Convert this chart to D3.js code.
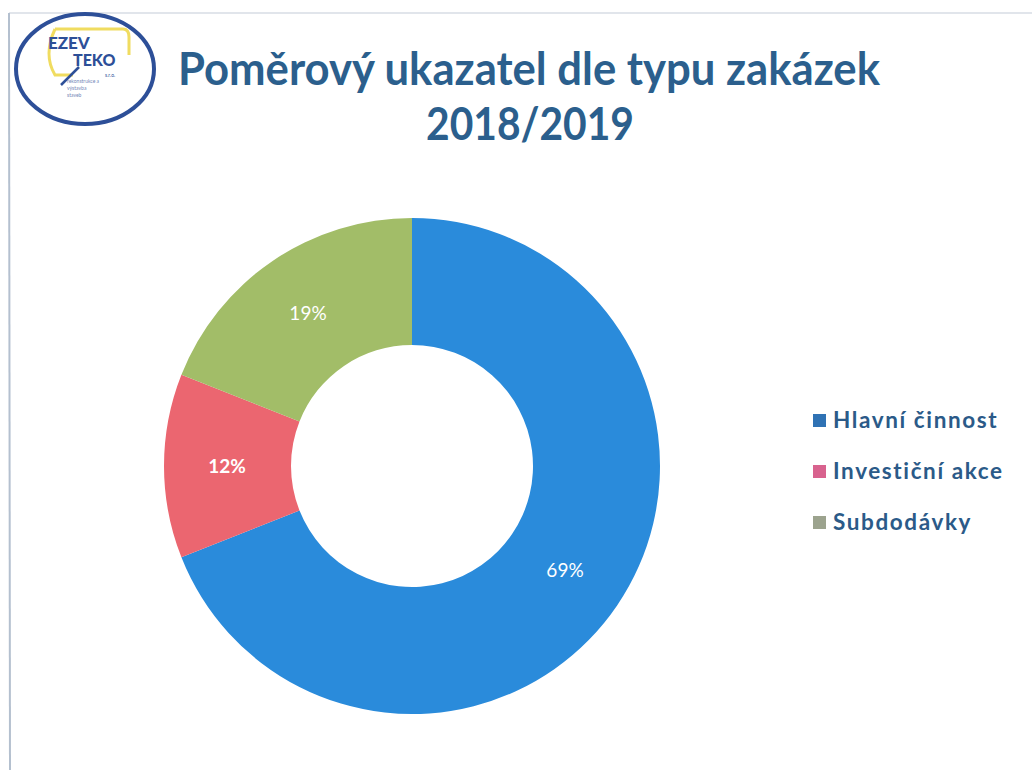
<!DOCTYPE html>
<html>
<head>
<meta charset="utf-8">
<title>Poměrový ukazatel dle typu zakázek</title>
<script src="https://d3js.org/d3.v7.min.js"></script>
<style>
  body { margin: 0; background: #fff; }
  svg { display: block; }
</style>
</head>
<body>
<div id="chart"></div>
<script>
// data
const categories = ["Hlavní činnost", "Investiční akce", "Subdodávky"];
const shares = [69, 12, 19];
const sliceColors = ["#2a8bdb", "#eb6670", "#a2bd68"];
const legendColors = ["#2f72b4", "#d8628e", "#9ca38e"];
const titleLines = ["Poměrový ukazatel dle typu zakázek", "2018/2019"];

const W = 1032, H = 770;
const svg = d3.select("#chart").append("svg")
    .attr("width", W).attr("height", H);

// scan border
svg.append("line").attr("x1", 9).attr("y1", 13).attr("x2", 1032).attr("y2", 13)
    .attr("stroke", "#c3ccd7").attr("stroke-width", 1.2);
svg.append("line").attr("x1", 9).attr("y1", 13).attr("x2", 10).attr("y2", 770)
    .attr("stroke", "#b4c0cf").attr("stroke-width", 2);

// logo
const logo = svg.append("g").attr("transform", "translate(85,69)");
logo.append("ellipse").attr("rx", 69).attr("ry", 55)
    .attr("fill", "#fff").attr("stroke", "#2d4f98").attr("stroke-width", 4);
logo.append("path").attr("d", "M-30,-40 L38,-40 Q44,-40 44,-32 L44,-14")
    .attr("fill", "none").attr("stroke", "#f0dc60").attr("stroke-width", 3);
logo.append("path").attr("d", "M-30,-40 Q-42,-14 -30,6 L-12,6")
    .attr("fill", "none").attr("stroke", "#f0dc60").attr("stroke-width", 3);
logo.append("line").attr("x1", -24).attr("y1", 16).attr("x2", -6).attr("y2", -2)
    .attr("stroke", "#2d4f98").attr("stroke-width", 2.5);
logo.append("text").attr("x", -37).attr("y", -20).text("EZEV")
    .attr("font-family", "Lato, sans-serif").attr("font-weight", "900")
    .attr("font-size", 17).attr("fill", "#2d4f98");
logo.append("text").attr("x", -12).attr("y", -3).text("TEKO")
    .attr("font-family", "Lato, sans-serif").attr("font-weight", "900")
    .attr("font-size", 16).attr("fill", "#2d4f98");
logo.append("text").attr("x", 20).attr("y", 8).text("s.r.o.")
    .attr("font-family", "Lato, sans-serif").attr("font-size", 5).attr("fill", "#2d4f98");
[14, 21, 28].forEach((y, i) => {
  logo.append("text").attr("x", -18).attr("y", y)
      .text(["rekonstrukce a", "výstavba", "staveb"][i])
      .attr("font-family", "Lato, sans-serif").attr("font-size", 5).attr("fill", "#7487b8");
});

// title
const title = svg.append("g")
    .attr("font-family", "Lato, sans-serif").attr("font-weight", "bold")
    .attr("fill", "#2b5f8d").attr("text-anchor", "middle");
title.append("text").attr("x", 529).attr("y", 85).attr("font-size", 45)
    .attr("textLength", 702).attr("lengthAdjust", "spacingAndGlyphs")
    .text(titleLines[0]);
title.append("text").attr("x", 530).attr("y", 140).attr("font-size", 45)
    .attr("textLength", 208).attr("lengthAdjust", "spacingAndGlyphs")
    .text(titleLines[1]);

// donut
const cx = 412, cy = 466, outerR = 248, innerR = 121;
const pie = d3.pie().sort(null).value(d => d);
const arc = d3.arc().innerRadius(innerR).outerRadius(outerR);
const labelArc = d3.arc().innerRadius(185).outerRadius(185);

const g = svg.append("g").attr("transform", `translate(${cx},${cy})`);
const arcs = pie(shares);
g.selectAll("path").data(arcs).enter().append("path")
    .attr("d", arc)
    .attr("fill", (d, i) => sliceColors[i]);

g.selectAll("text.lbl").data(arcs).enter().append("text")
    .attr("class", "lbl")
    .attr("transform", d => `translate(${labelArc.centroid(d)})`)
    .attr("text-anchor", "middle").attr("dy", "0.35em")
    .attr("font-family", "Lato, sans-serif").attr("font-size", 19)
    .attr("font-weight", (d, i) => i === 1 ? "bold" : "normal")
    .attr("fill", "#fff")
    .text(d => d.data + "%");

// legend
const legend = svg.append("g").attr("transform", "translate(813,428)");
const rows = legend.selectAll("g").data(categories).enter().append("g")
    .attr("transform", (d, i) => `translate(0,${i * 51})`);
rows.append("rect").attr("x", 0).attr("y", -14).attr("width", 13).attr("height", 13)
    .attr("fill", (d, i) => legendColors[i]);
rows.append("text").attr("x", 20).attr("y", 0)
    .attr("font-family", "Lato, sans-serif").attr("font-weight", "bold")
    .attr("font-size", 22.5).attr("letter-spacing", 1.6).attr("fill", "#2b5a88")
    .text(d => d);
</script>
</body>
</html>
